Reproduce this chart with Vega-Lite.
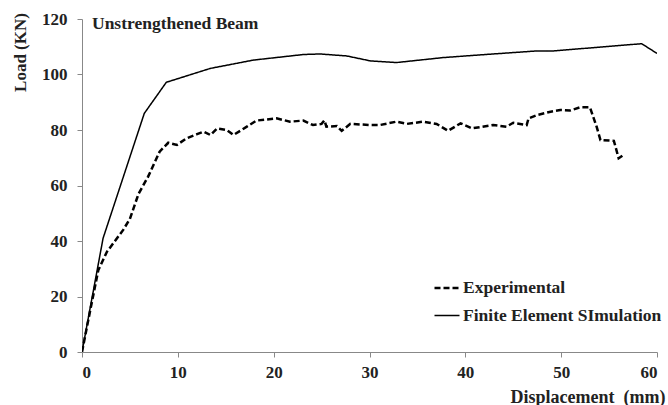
{
  "$schema": "https://vega.github.io/schema/vega-lite/v6.json",
  "width": 575,
  "height": 333,
  "autosize": {"type": "none"},
  "padding": {"left": 82, "top": 19, "right": 11, "bottom": 53},
  "background": "white",
  "title": {
    "text": "Unstrengthened Beam",
    "anchor": "start",
    "frame": "group",
    "orient": "top",
    "offset": 0,
    "baseline": "alphabetic",
    "dx": 10,
    "dy": 36,
    "font": "Liberation Serif",
    "fontSize": 17.5,
    "fontWeight": "bold",
    "color": "#222"
  },
  "config": {
    "font": "Liberation Serif",
    "view": {"stroke": null},
    "axis": {
      "grid": false,
      "domainColor": "#888",
      "tickColor": "#888",
      "tickSize": 5,
      "labelFont": "Liberation Serif",
      "labelFontSize": 17,
      "labelFontWeight": "bold",
      "labelColor": "#222",
      "titleFont": "Liberation Serif",
      "titleFontSize": 17,
      "titleFontWeight": "bold",
      "titleColor": "#222"
    },
    "legend": {
      "labelFont": "Liberation Serif",
      "labelFontSize": 17.5,
      "labelFontWeight": "bold",
      "labelColor": "#222",
      "labelLimit": 0
    }
  },
  "data": {
    "values": [
      {"d": 0, "load": 0, "series": "Finite Element SImulation"},
      {"d": 2.2, "load": 41, "series": "Finite Element SImulation"},
      {"d": 6.5, "load": 86, "series": "Finite Element SImulation"},
      {"d": 8.8, "load": 97.2, "series": "Finite Element SImulation"},
      {"d": 13.4, "load": 102.2, "series": "Finite Element SImulation"},
      {"d": 17.9, "load": 105.2, "series": "Finite Element SImulation"},
      {"d": 20.5, "load": 106.2, "series": "Finite Element SImulation"},
      {"d": 23.1, "load": 107.2, "series": "Finite Element SImulation"},
      {"d": 24.8, "load": 107.4, "series": "Finite Element SImulation"},
      {"d": 27.6, "load": 106.7, "series": "Finite Element SImulation"},
      {"d": 30.1, "load": 104.9, "series": "Finite Element SImulation"},
      {"d": 32.8, "load": 104.3, "series": "Finite Element SImulation"},
      {"d": 37.7, "load": 106.1, "series": "Finite Element SImulation"},
      {"d": 42.5, "load": 107.3, "series": "Finite Element SImulation"},
      {"d": 47.5, "load": 108.5, "series": "Finite Element SImulation"},
      {"d": 49.2, "load": 108.5, "series": "Finite Element SImulation"},
      {"d": 58.4, "load": 111.1, "series": "Finite Element SImulation"},
      {"d": 60, "load": 107.6, "series": "Finite Element SImulation"},
      {"d": 0, "load": 0, "series": "Experimental"},
      {"d": 0.8, "load": 14, "series": "Experimental"},
      {"d": 1.7, "load": 29.5, "series": "Experimental"},
      {"d": 2.6, "load": 36.1, "series": "Experimental"},
      {"d": 4.3, "load": 44, "series": "Experimental"},
      {"d": 5.0, "load": 48, "series": "Experimental"},
      {"d": 5.9, "load": 57, "series": "Experimental"},
      {"d": 6.9, "load": 63.2, "series": "Experimental"},
      {"d": 8.1, "load": 72.2, "series": "Experimental"},
      {"d": 9.0, "load": 75.4, "series": "Experimental"},
      {"d": 9.9, "load": 74.6, "series": "Experimental"},
      {"d": 10.9, "load": 77, "series": "Experimental"},
      {"d": 12.0, "load": 78.5, "series": "Experimental"},
      {"d": 12.7, "load": 79.4, "series": "Experimental"},
      {"d": 13.4, "load": 78.2, "series": "Experimental"},
      {"d": 14.1, "load": 80.6, "series": "Experimental"},
      {"d": 15.1, "load": 80, "series": "Experimental"},
      {"d": 15.8, "load": 78.2, "series": "Experimental"},
      {"d": 17.2, "load": 81.2, "series": "Experimental"},
      {"d": 18.2, "load": 83.4, "series": "Experimental"},
      {"d": 20.3, "load": 84.2, "series": "Experimental"},
      {"d": 21.7, "load": 83, "series": "Experimental"},
      {"d": 23.1, "load": 83.4, "series": "Experimental"},
      {"d": 24.1, "load": 81.8, "series": "Experimental"},
      {"d": 25.0, "load": 82.2, "series": "Experimental"},
      {"d": 25.3, "load": 83.5, "series": "Experimental"},
      {"d": 25.5, "load": 81.2, "series": "Experimental"},
      {"d": 26.6, "load": 81.4, "series": "Experimental"},
      {"d": 27.1, "load": 79.7, "series": "Experimental"},
      {"d": 28, "load": 82.2, "series": "Experimental"},
      {"d": 30.1, "load": 81.8, "series": "Experimental"},
      {"d": 31.1, "load": 81.8, "series": "Experimental"},
      {"d": 32.8, "load": 83, "series": "Experimental"},
      {"d": 33.9, "load": 82.2, "series": "Experimental"},
      {"d": 35.6, "load": 83, "series": "Experimental"},
      {"d": 37, "load": 82.2, "series": "Experimental"},
      {"d": 38.2, "load": 79.7, "series": "Experimental"},
      {"d": 39.5, "load": 82.4, "series": "Experimental"},
      {"d": 40.7, "load": 80.6, "series": "Experimental"},
      {"d": 42.9, "load": 81.8, "series": "Experimental"},
      {"d": 44.3, "load": 81.2, "series": "Experimental"},
      {"d": 45, "load": 82.6, "series": "Experimental"},
      {"d": 46.4, "load": 81.8, "series": "Experimental"},
      {"d": 46.6, "load": 84.2, "series": "Experimental"},
      {"d": 47.5, "load": 85.4, "series": "Experimental"},
      {"d": 48.9, "load": 86.6, "series": "Experimental"},
      {"d": 49.9, "load": 87.2, "series": "Experimental"},
      {"d": 50.9, "load": 87, "series": "Experimental"},
      {"d": 52, "load": 88.2, "series": "Experimental"},
      {"d": 53, "load": 88.2, "series": "Experimental"},
      {"d": 53.7, "load": 81.2, "series": "Experimental"},
      {"d": 54.1, "load": 76.4, "series": "Experimental"},
      {"d": 55.5, "load": 76.1, "series": "Experimental"},
      {"d": 56, "load": 69.8, "series": "Experimental"},
      {"d": 56.5, "load": 71, "series": "Experimental"}
    ]
  },
  "mark": {"type": "line", "color": "black", "clip": true},
  "encoding": {
    "x": {
      "field": "d",
      "type": "quantitative",
      "scale": {"domain": [0, 60], "nice": false, "zero": false},
      "axis": {
        "values": [0, 10, 20, 30, 40, 50, 60],
        "labelPadding": 7,
        "title": "Displacement\u00a0\u00a0(mm)",
        "titleFontSize": 18,
        "titleAnchor": "end",
        "titleAlign": "right",
        "titleBaseline": "alphabetic",
        "titleX": 583,
        "titleY": 50
      }
    },
    "y": {
      "field": "load",
      "type": "quantitative",
      "scale": {"domain": [0, 120], "nice": false},
      "axis": {
        "values": [0, 20, 40, 60, 80, 100, 120],
        "labelPadding": 10,
        "title": "Load (KN)",
        "titleAngle": -90,
        "titleAlign": "center",
        "titleBaseline": "middle",
        "titleX": -62,
        "titleY": 33
      }
    },
    "strokeDash": {
      "field": "series",
      "type": "nominal",
      "scale": {"domain": ["Experimental", "Finite Element SImulation"], "range": [[6, 3], [1, 0]]},
      "legend": {
        "title": null,
        "orient": "none",
        "legendX": 351,
        "legendY": 255,
        "padding": 0,
        "symbolType": "stroke",
        "symbolSize": 625,
        "symbolStrokeColor": "black",
        "symbolStrokeWidth": 2,
        "rowPadding": 5,
        "labelOffset": 2,
        "labelLimit": 0
      }
    },
    "strokeWidth": {
      "field": "series",
      "type": "nominal",
      "scale": {"domain": ["Experimental", "Finite Element SImulation"], "range": [2.5, 1.5]},
      "legend": null
    }
  }
}
